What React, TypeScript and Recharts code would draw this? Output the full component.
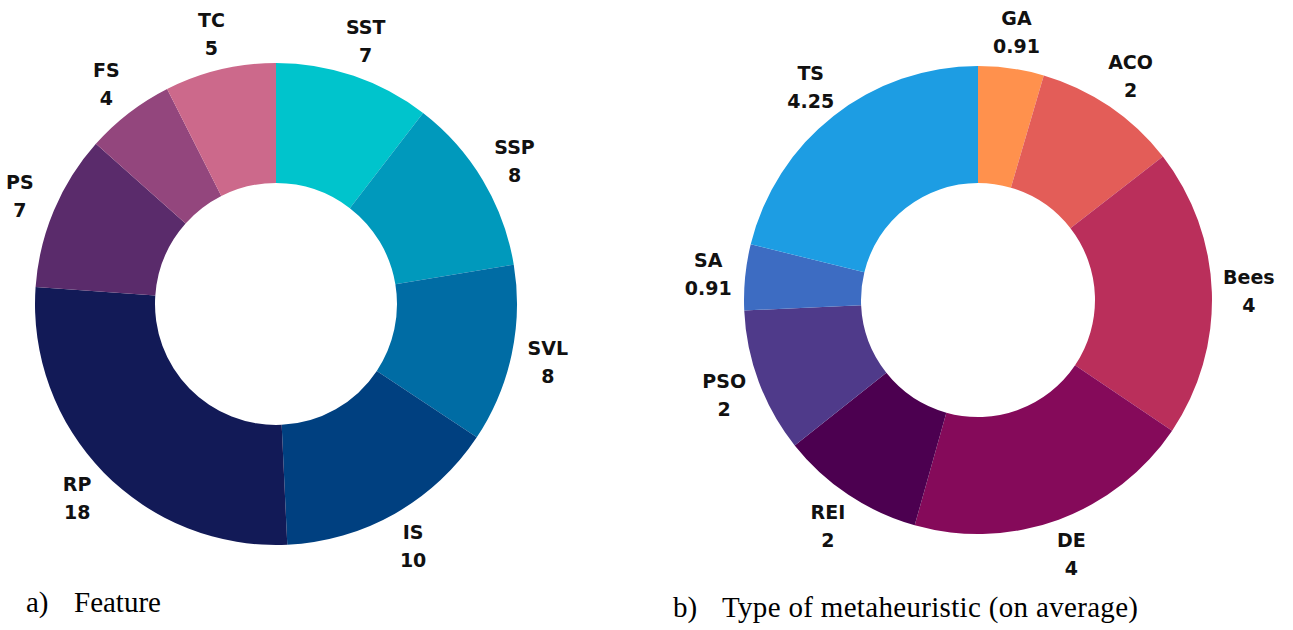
import { PieChart, Pie, Cell } from "recharts";

// a) Feature
const featureNames = ["SST", "SSP", "SVL", "IS", "RP", "PS", "FS", "TC"];
const featureCounts = [7, 8, 8, 10, 18, 7, 4, 5];
const featureColors = ["#00c4cc", "#0099bc", "#006ca4", "#004080", "#121a57", "#5a2b6b", "#93467d", "#cc698b"];

// b) Type of metaheuristic (on average)
const metaNames = ["GA", "ACO", "Bees", "DE", "REI", "PSO", "SA", "TS"];
const metaValues = [0.91, 2, 4, 4, 2, 2, 0.91, 4.25];
const metaColors = ["#ff914d", "#e35d58", "#ba2f5b", "#850a5a", "#4c0050", "#4f3a8a", "#3d6cc2", "#1d9de3"];

const featureData = featureNames.map((name, i) => ({ name, value: featureCounts[i] }));
const metaData = metaNames.map((name, i) => ({ name, value: metaValues[i] }));

const RADIAN = Math.PI / 180;
const LABEL_FONT = "'DejaVu Sans', 'Open Sans', sans-serif";

// two-line label (name above, value below) sitting just outside the ring
const renderLabel = ({ cx, cy, midAngle, outerRadius, payload }: any) => {
  const r = outerRadius + 37;
  const x = cx + r * Math.cos(-midAngle * RADIAN);
  const y = cy + r * Math.sin(-midAngle * RADIAN);
  return (
    <text textAnchor="middle" fill="#111" fontFamily={LABEL_FONT} fontWeight={700} fontSize={19}>
      <tspan x={x} y={y - 7}>{payload.name}</tspan>
      <tspan x={x} y={y + 21}>{String(payload.value)}</tspan>
    </text>
  );
};

export default function App() {
  return (
    <div style={{ position: "absolute", left: 0, top: 0, width: 1293, height: 630, background: "#fff" }}>
      <PieChart width={1293} height={630} margin={{ top: 0, right: 0, bottom: 0, left: 0 }}>
        <Pie
          data={featureData}
          dataKey="value"
          nameKey="name"
          cx={276}
          cy={304}
          innerRadius={121}
          outerRadius={241}
          startAngle={90}
          endAngle={-270}
          stroke="none"
          labelLine={false}
          label={renderLabel}
          isAnimationActive={false}
        >
          {featureData.map((d, i) => (
            <Cell key={`f-${d.name}`} fill={featureColors[i]} />
          ))}
        </Pie>
        <Pie
          data={metaData}
          dataKey="value"
          nameKey="name"
          cx={978}
          cy={300}
          innerRadius={117}
          outerRadius={234}
          startAngle={90}
          endAngle={-270}
          stroke="none"
          labelLine={false}
          label={renderLabel}
          isAnimationActive={false}
        >
          {metaData.map((d, i) => (
            <Cell key={`m-${d.name}`} fill={metaColors[i]} />
          ))}
        </Pie>
      </PieChart>
      {/* captions under each donut */}
      <svg width={1293} height={630} style={{ position: "absolute", left: 0, top: 0, pointerEvents: "none" }}>
        <g fontFamily="'Liberation Serif', 'Times New Roman', serif" fontSize={29} fill="#000">
          <text x={26} y={612}>a)</text>
          <text x={74} y={612}>Feature</text>
          <text x={673} y={617}>b)</text>
          <text x={722} y={617} textLength={416} lengthAdjust="spacing">
            Type of metaheuristic (on average)
          </text>
        </g>
      </svg>
    </div>
  );
}
